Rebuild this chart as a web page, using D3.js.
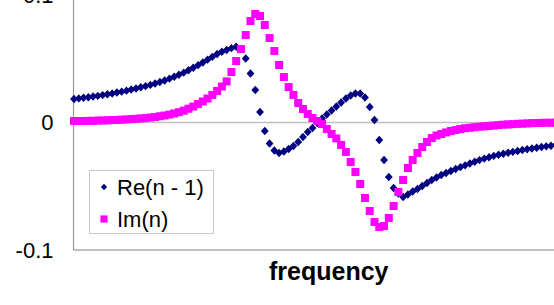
<!DOCTYPE html>
<html>
<head>
<meta charset="utf-8">
<script src="https://cdn.jsdelivr.net/npm/d3@7"></script>
<style>
  body { margin: 0; background: #fff; }
  svg { display: block; font-family: "Liberation Sans", Arial, sans-serif; }
</style>
</head>
<body>
<div id="chart"></div>
<script>
// values, one per frequency step
var reN1 = [
  0.0184, 0.0189, 0.0194, 0.0198, 0.0204, 0.0209, 0.0215, 0.0221, 0.0228, 0.0235,
  0.0242, 0.0250, 0.0259, 0.0267, 0.0276, 0.0285, 0.0295, 0.0306, 0.0318, 0.0330,
  0.0344, 0.0359, 0.0375, 0.0391, 0.0410, 0.0430, 0.0450, 0.0471, 0.0493, 0.0515,
  0.0537, 0.0555, 0.0569, 0.0583, 0.0594, 0.0576, 0.0502, 0.0384, 0.0255, 0.0082,
  -0.0067, -0.0165, -0.0220, -0.0239, -0.0227, -0.0208, -0.0184, -0.0153, -0.0114, -0.0075,
  -0.0043, -0.0004, 0.0031, 0.0063, 0.0094, 0.0125, 0.0157, 0.0188, 0.0212, 0.0227,
  0.0227, 0.0196, 0.0122, 0.0020, -0.0137, -0.0294, -0.0427, -0.0514, -0.0557, -0.0584,
  -0.0565, -0.0541, -0.0522, -0.0498, -0.0475, -0.0451, -0.0431, -0.0412, -0.0396, -0.0380,
  -0.0365, -0.0350, -0.0336, -0.0322, -0.0308, -0.0295, -0.0283, -0.0272, -0.0262, -0.0253,
  -0.0245, -0.0237, -0.0230, -0.0223, -0.0216, -0.0210, -0.0204, -0.0198, -0.0192, -0.0187,
  -0.0182, -0.0177
];
var imN = [
  0.0012, 0.0012, 0.0012, 0.0013, 0.0013, 0.0015, 0.0016, 0.0017, 0.0019, 0.0020,
  0.0022, 0.0024, 0.0027, 0.0029, 0.0032, 0.0035, 0.0039, 0.0043, 0.0049, 0.0055,
  0.0062, 0.0071, 0.0081, 0.0093, 0.0108, 0.0125, 0.0145, 0.0165, 0.0188, 0.0216,
  0.0247, 0.0282, 0.0322, 0.0396, 0.0482, 0.0576, 0.0686, 0.0796, 0.0851, 0.0835,
  0.0765, 0.0663, 0.0561, 0.0451, 0.0357, 0.0278, 0.0216, 0.0153, 0.0106, 0.0067,
  0.0035, 0.0012, -0.0012, -0.0051, -0.0090, -0.0125, -0.0176, -0.0231, -0.0310, -0.0388,
  -0.0482, -0.0592, -0.0694, -0.0780, -0.0820, -0.0812, -0.0749, -0.0655, -0.0545, -0.0451,
  -0.0357, -0.0294, -0.0239, -0.0192, -0.0153, -0.0122, -0.0102, -0.0090, -0.0078, -0.0067,
  -0.0059, -0.0051, -0.0045, -0.0041, -0.0037, -0.0033, -0.0030, -0.0027, -0.0024, -0.0020,
  -0.0017, -0.0015, -0.0013, -0.0010, -0.0009, -0.0007, -0.0005, -0.0004, -0.0003, -0.0002,
  -0.0002, -0.0001
];
var yTicks = [-0.1, 0, 0.1];
var yTickLabels = ["-0.1", "0", "0.1"];
var seriesNames = ["Re(n - 1)", "Im(n)"];
var seriesColors = ["#000080", "#ff00ff"];

var svgWidth = 554, svgHeight = 305;
var plot = { left: 73.5, right: 584, top: -5, bottom: 250 };

var svg = d3.select("#chart").append("svg")
  .attr("width", svgWidth)
  .attr("height", svgHeight);

// frequency is just the step index here, the chart shows no x ticks
var xScale = d3.scaleLinear()
  .domain([0, 107])
  .range([74, 584.4]);

var yScale = d3.scaleLinear()
  .domain([-0.1, 0.1])
  .range([plot.bottom, plot.top]);

// zero line
svg.append("line")
  .attr("x1", plot.left).attr("x2", svgWidth)
  .attr("y1", yScale(0)).attr("y2", yScale(0))
  .attr("stroke", "#c0c0c0").attr("stroke-width", 1.5);

// y axis, labels only (hyphen minus like the original)
var yAxis = svg.append("g")
  .attr("transform", "translate(" + plot.left + ",0)")
  .call(d3.axisLeft(yScale).tickValues(yTicks).tickSize(0).tickPadding(20)
    .tickFormat(function(d, i) { return yTickLabels[i]; }));
yAxis.select(".domain").remove();
yAxis.selectAll("text")
  .style("font-size", "22px")
  .style("font-family", "Liberation Sans, Arial, sans-serif")
  .attr("fill", "#000");

// left and bottom frame
svg.append("line")
  .attr("x1", plot.left).attr("x2", plot.left)
  .attr("y1", 0).attr("y2", plot.bottom)
  .attr("stroke", "#999").attr("stroke-width", 1.2);
svg.append("line")
  .attr("x1", plot.left).attr("x2", svgWidth)
  .attr("y1", plot.bottom).attr("y2", plot.bottom)
  .attr("stroke", "#808080").attr("stroke-width", 1.2);

var diamond = "M0,-4.2L3.9,0L0,4.2L-3.9,0Z";
var square = "M-4,-4H4V4H-4Z";

svg.append("g").selectAll("path")
  .data(reN1)
  .enter()
  .append("path")
    .attr("d", diamond)
    .attr("transform", function(d, i) { return "translate(" + xScale(i) + "," + yScale(d) + ")"; })
    .attr("fill", seriesColors[0]);

svg.append("g").selectAll("path")
  .data(imN)
  .enter()
  .append("path")
    .attr("d", square)
    .attr("transform", function(d, i) { return "translate(" + xScale(i) + "," + yScale(d) + ")"; })
    .attr("fill", seriesColors[1]);

// legend
var legend = svg.append("g");
legend.append("rect")
  .attr("x", 89.5).attr("y", 170.5)
  .attr("width", 124).attr("height", 63)
  .attr("fill", "#fff")
  .attr("stroke", "#c8c8c8");
var shapes = [diamond, square];
seriesNames.forEach(function(name, i) {
  var cy = 187 + i * 32;
  legend.append("path")
    .attr("d", shapes[i])
    .attr("transform", "translate(104," + cy + ")" + (i === 0 ? " scale(0.8)" : " scale(0.9)"))
    .attr("fill", seriesColors[i]);
  legend.append("text")
    .attr("x", 117)
    .attr("y", cy + 8)
    .style("font-size", "22px")
    .text(name);
});

// x axis title
svg.append("text")
  .attr("x", (plot.left + plot.right) / 2)
  .attr("y", 280)
  .attr("text-anchor", "middle")
  .style("font-size", "25px")
  .style("font-weight", "bold")
  .text("frequency");
</script>
</body>
</html>
